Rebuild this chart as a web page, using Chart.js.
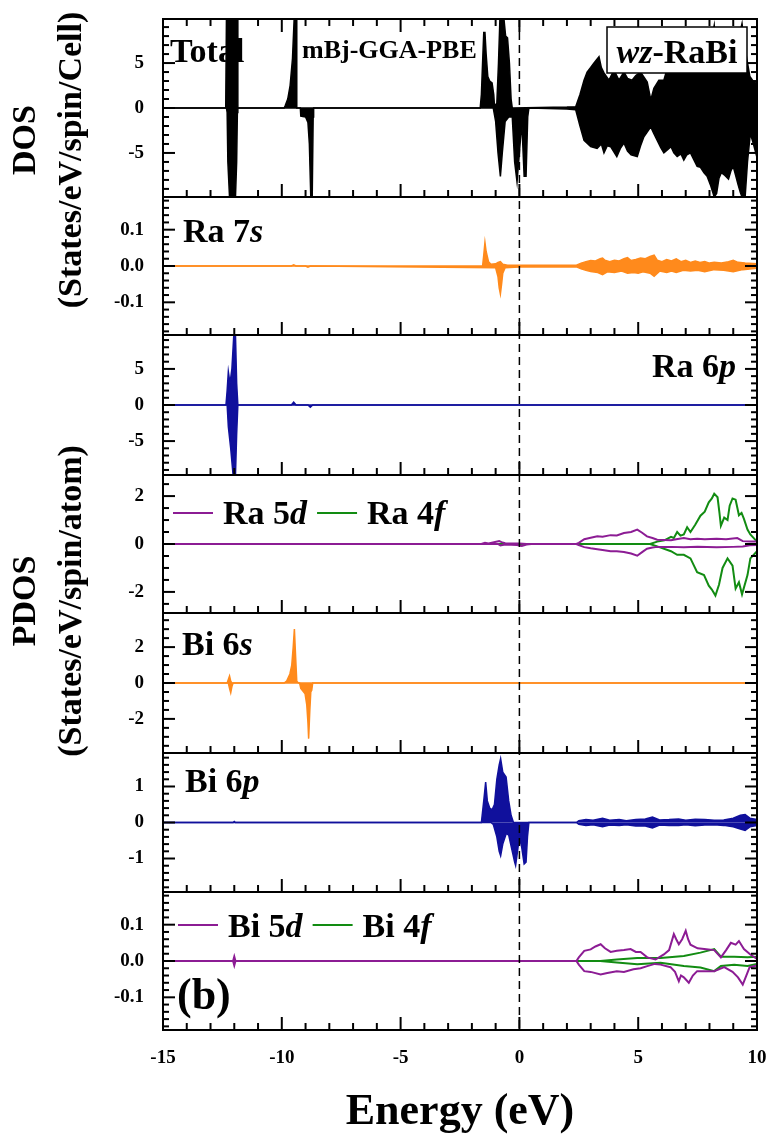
<!DOCTYPE html>
<html>
<head>
<meta charset="utf-8">
<script src="https://cdn.jsdelivr.net/npm/chart.js@4.4.1/dist/chart.umd.min.js"></script>
<style>
  html, body { margin: 0; padding: 0; background: #fff; }
  #wrap { width: 768px; height: 1136px; }
</style>
</head>
<body>
<div id="wrap"><canvas id="dosChart" width="768" height="1136"></canvas></div>
<script>
// energy axis
const xTicks = [-15, -10, -5, 0, 5, 10];

// Total DOS, spin up / spin down
const totUpE = [-15, -12.36, -12.33, -11.87, -11.85, -9.9, -9.85, -9.75, -9.65, -9.55, -9.48, -9.4, -9.37,
  -1.65, -1.6, -1.55, -1.5, -1.45, -1.4, -1.33, -1.25, -1.15, -1.08, -1.05, -0.95, -0.88, -0.82, -0.65, -0.58, -0.5, -0.42, -0.35, -0.3,
  2.0, 2.37, 2.55, 2.72, 2.85, 3.0, 3.14, 3.35, 3.45, 3.56, 3.77, 3.98, 4.19, 4.4, 4.55, 4.74, 4.9, 5.1, 5.25, 5.38, 5.53, 5.66, 5.87,
  6.08, 6.2, 6.38, 6.5, 6.64, 6.8, 6.92, 7.05, 7.2, 7.35, 7.48, 7.62, 7.77, 7.9, 8.06, 8.15, 8.2, 8.3, 8.45, 8.6, 8.75, 8.9, 9.05,
  9.17, 9.3, 9.37, 9.45, 9.57, 9.7, 9.86, 10];
const totUp = [0, 0, 9.9, 9.9, 0, 0, 0.3, 1.0, 2.5, 5.5, 9.9, 9.9, 0,
  0, 1.5, 5, 8.4, 8.4, 6, 3.5, 3.0, 2.8, 1.5, 0.3, 0.5, 5, 9.9, 9.9, 8.0, 7.8, 5, 1, 0,
  0.1, 0.15, 1.5, 3.1, 4.0, 4.5, 5.0, 5.7, 4.5, 3.9, 3.1, 4.2, 3.1, 4.0, 3.3, 3.1, 3.6, 4.0, 3.4, 2.9, 0.9, 2.2, 3.1,
  3.1, 4.2, 5.3, 4.6, 4.2, 4.8, 4.6, 5.2, 5.0, 4.6, 5.3, 5.0, 4.6, 5.5, 6.4, 8.5, 9.2, 6.1, 5.3, 5.0, 5.8, 6.1, 5.6,
  6.8, 8.6, 9.4, 7.5, 5.5, 3.5, 2.9, 2.7];
const totDnE = [-15, -12.33, -12.3, -12.27, -12.2, -11.95, -11.9, -11.87, -11.85, -9.22, -9.2, -9.0, -8.9, -8.84, -8.78, -8.72, -8.68, -8.66,
  -1.1, -1.0, -0.9, -0.8, -0.72, -0.6, -0.45, -0.3, -0.2, -0.1, 0.0, 0.1, 0.2, 0.28, 0.35, 0.4,
  2.0, 2.37, 2.55, 2.72, 3.0, 3.27, 3.45, 3.56, 3.7, 3.84, 4.1, 4.25, 4.4, 4.55, 4.7, 4.96, 5.1, 5.24, 5.4, 5.53, 5.65, 5.8, 5.95,
  6.08, 6.25, 6.38, 6.5, 6.64, 6.8, 6.92, 7.05, 7.2, 7.35, 7.48, 7.62, 7.77, 7.9, 8.06, 8.2, 8.3, 8.4, 8.5, 8.65, 8.8, 8.9, 9.0,
  9.1, 9.2, 9.3, 9.37, 9.5, 9.6, 9.72, 9.85, 10];
const totDn = [0, 0, -0.5, -6, -9.9, -9.9, -6, -0.5, 0, 0, -0.9, -1.0, -1.6, -4, -9.9, -9.9, -1.0, 0,
  0, -1.5, -5, -7.6, -5, -1.5, -1.0, -1.0, -6, -8.2, -5, -1.5, -7.6, -7.6, -1, 0,
  -0.1, -0.2, -2.0, -3.6, -4.3, -4.5, -4.0, -5.0, -4.2, -4.3, -5.4, -4.5, -3.9, -4.8, -5.2, -5.4, -4.2, -3.2, -2.6, -2.1, -2.8, -3.6, -4.4,
  -5.0, -4.6, -4.3, -5.0, -5.4, -5.1, -5.8, -5.2, -5.0, -5.8, -6.5, -6.6, -7.2, -7.6, -8.7, -9.9, -9.5, -7.8, -7.2, -7.5, -7.9, -7.0, -6.5,
  -7.5, -8.5, -9.4, -9.9, -9.9, -6.0, -2.8, -4.0, -5.5];

// Ra 7s
const ra7sUpE = [-15, -9.6, -9.5, -9.4, -1.55, -1.5, -1.45, -1.4, -1.3, -1.2, -1.0, -0.9, -0.8, -0.7, -0.5, 0, 2.4, 2.6, 2.8, 3.0, 3.2,
  3.4, 3.5, 3.6, 3.8, 4.0, 4.2, 4.4, 4.55, 4.7, 4.9, 5.1, 5.3, 5.5, 5.67, 5.8, 6.0, 6.2, 6.4, 6.6, 6.8, 7.0, 7.2, 7.4, 7.6, 7.8,
  8.0, 8.2, 8.5, 8.8, 9.0, 9.2, 9.5, 10];
const ra7sUp = [0, 0, 0.003, 0, 0, 0.03, 0.065, 0.04, 0.012, 0.005, 0.006, 0.01, 0.012, 0.005, 0.002, 0.002, 0.002, 0.008, 0.012, 0.015, 0.014,
  0.02, 0.022, 0.016, 0.012, 0.016, 0.014, 0.02, 0.023, 0.015, 0.018, 0.022, 0.02, 0.026, 0.03, 0.016, 0.012, 0.018, 0.014, 0.02, 0.012, 0.016, 0.01, 0.014, 0.01, 0.012,
  0.008, 0.01, 0.008, 0.012, 0.016, 0.01, 0.008, 0.006];
const ra7sDnE = [-15, -9.0, -8.9, -8.8, -1.0, -0.9, -0.85, -0.8, -0.75, -0.7, -0.6, 0, 2.4, 2.6, 2.8, 3.0, 3.3, 3.5, 3.7, 4.0, 4.3,
  4.55, 4.8, 5.0, 5.2, 5.5, 5.67, 5.9, 6.2, 6.4, 6.6, 6.9, 7.2, 7.5, 7.8, 8.2, 8.6, 9.0, 9.4, 10];
const ra7sDn = [0, 0, -0.003, 0, -0.005, -0.03, -0.06, -0.077, -0.05, -0.02, -0.005, -0.003, -0.002, -0.008, -0.012, -0.015, -0.018, -0.024, -0.016, -0.018, -0.014,
  -0.02, -0.018, -0.02, -0.016, -0.02, -0.028, -0.014, -0.018, -0.014, -0.018, -0.012, -0.014, -0.012, -0.016, -0.01, -0.012, -0.016, -0.01, -0.006];

// Ra 6p
const ra6pUpE = [-15, -12.35, -12.3, -12.25, -12.18, -12.1, -12.02, -11.95, -11.9, -11.85, -9.6, -9.5, -9.4, 10];
const ra6pUp = [0, 0, 2, 4.6, 3, 5, 9.7, 9.7, 3, 0, 0, 0.4, 0, 0];
const ra6pDnE = [-15, -12.3, -12.25, -12.15, -12.05, -11.95, -11.9, -11.85, -8.9, -8.8, -8.7, 10];
const ra6pDn = [0, 0, -3, -6, -9.7, -9.7, -4, 0, 0, -0.3, 0, 0];

// Ra 5d and Ra 4f
const ra5dUpE = [-15, -1.6, -1.45, -1.3, -0.85, -0.75, -0.6, 0, 0.3, 2.4, 2.5, 2.73, 3.0, 3.28, 3.5, 3.84, 4.1, 4.4, 4.7, 4.96,
  5.15, 5.37, 5.6, 5.8, 6.1, 6.38, 6.6, 6.92, 7.2, 7.48, 7.8, 8.3, 8.7, 9.17, 9.4, 9.7, 10];
const ra5dUp = [0, 0, 0.05, 0.02, 0.12, 0.08, 0.03, 0.02, 0, 0, 0.05, 0.2, 0.26, 0.32, 0.3, 0.37, 0.36, 0.46, 0.5, 0.6,
  0.48, 0.32, 0.25, 0.18, 0.17, 0.16, 0.2, 0.25, 0.2, 0.22, 0.2, 0.22, 0.2, 0.25, 0.12, 0.1, 0.1];
const ra5dDnE = [-15, -0.9, -0.8, -0.6, -0.1, 0.1, 0.3, 0.5, 2.4, 2.5, 2.73, 3.0, 3.28, 3.5, 3.84, 4.1, 4.4, 4.7, 4.96, 5.15,
  5.37, 5.6, 5.8, 6.38, 6.92, 7.5, 8.3, 9.0, 9.4, 9.7, 10];
const ra5dDn = [0, 0, -0.06, -0.02, -0.04, -0.08, -0.02, 0, 0, -0.05, -0.13, -0.18, -0.22, -0.25, -0.3, -0.3, -0.33, -0.4, -0.49, -0.35,
  -0.2, -0.15, -0.12, -0.12, -0.14, -0.12, -0.14, -0.12, -0.1, -0.05, -0.04];
const ra4fUpE = [-15, 5.5, 5.8, 6.1, 6.38, 6.5, 6.64, 6.78, 6.92, 7.06, 7.2, 7.4, 7.62, 7.8, 7.97, 8.1, 8.2, 8.34, 8.42, 8.48,
  8.62, 8.76, 8.85, 8.97, 9.1, 9.24, 9.35, 9.45, 9.6, 9.72, 10];
const ra4fUp = [0, 0, 0.1, 0.15, 0.3, 0.25, 0.5, 0.35, 0.4, 0.7, 0.5, 0.8, 1.18, 1.35, 1.74, 1.9, 2.1, 1.95, 1.3, 0.76,
  1.1, 1.0, 1.6, 1.9, 1.85, 1.2, 1.3, 1.05, 0.6, 0.4, 0.1];
const ra4fDnE = [-15, 5.5, 5.8, 6.38, 6.64, 6.92, 7.2, 7.48, 7.77, 7.97, 8.1, 8.25, 8.4, 8.55, 8.76, 8.97, 9.1, 9.24, 9.37, 9.6, 9.72, 10];
const ra4fDn = [0, 0, -0.1, -0.3, -0.45, -0.45, -0.6, -1.18, -1.3, -1.74, -1.9, -2.15, -1.7, -1.0, -0.6, -0.9, -1.86, -1.6, -2.1, -1.3, -0.6, -0.3];

// Bi 6s
const bi6sUpE = [-15, -12.3, -12.25, -12.2, -12.15, -12.1, -9.9, -9.8, -9.66, -9.58, -9.52, -9.47, -9.42, -9.37, -9.3, 10];
const bi6sUp = [0, 0, 0.2, 0.39, 0.1, 0, 0, 0.1, 0.5, 1.0, 2.0, 3.0, 1.5, 0.1, 0, 0];
const bi6sDnE = [-15, -12.25, -12.2, -12.15, -12.1, -12.05, -9.25, -9.2, -9.02, -8.95, -8.9, -8.87, -8.82, -8.78, -8.74, -8.7, 10];
const bi6sDn = [0, 0, -0.3, -0.54, -0.2, 0, 0, -0.3, -0.6, -1.2, -2.2, -3.1, -1.5, -0.5, -0.4, 0, 0];

// Bi 6p
const bi6pUpE = [-15, -12.05, -12.0, -11.95, -1.6, -1.5, -1.42, -1.35, -1.25, -1.15, -1.05, -0.95, -0.85, -0.79, -0.7, -0.56, -0.45, -0.35, -0.25,
  2.4, 2.5, 2.8, 3.1, 3.5, 3.8, 4.2, 4.5, 4.9, 5.3, 5.6, 5.9, 6.3, 6.7, 7.0, 7.4, 7.8, 8.2, 8.6, 9.0, 9.3, 9.5, 9.7, 10];
const bi6pUp = [0, 0, 0.03, 0, 0, 0.6, 1.12, 0.6, 0.4, 0.35, 0.5, 1.2, 1.6, 1.77, 1.4, 1.26, 0.6, 0.2, 0,
  0, 0.05, 0.08, 0.06, 0.12, 0.06, 0.08, 0.05, 0.08, 0.1, 0.15, 0.07, 0.08, 0.1, 0.06, 0.09, 0.08, 0.06, 0.07, 0.12, 0.2, 0.22, 0.12, 0.08];
const bi6pDnE = [-15, -1.2, -1.1, -0.95, -0.85, -0.79, -0.7, -0.55, -0.45, -0.3, -0.2, -0.16, -0.08, 0, 0.1, 0.2, 0.28, 0.34, 0.4,
  2.4, 2.5, 2.8, 3.1, 3.5, 3.8, 4.2, 4.5, 4.9, 5.3, 5.6, 5.9, 6.3, 6.7, 7.0, 7.4, 7.8, 8.2, 8.6, 9.0, 9.3, 9.5, 9.7, 10];
const bi6pDn = [0, 0, -0.05, -0.4, -0.8, -0.92, -0.6, -0.3, -0.35, -0.8, -1.1, -1.19, -0.8, -0.4, -0.7, -1.15, -1.1, -0.4, 0,
  0, -0.05, -0.08, -0.06, -0.12, -0.07, -0.08, -0.06, -0.1, -0.1, -0.15, -0.07, -0.08, -0.08, -0.06, -0.09, -0.07, -0.06, -0.08, -0.12, -0.18, -0.22, -0.12, -0.08];

// Bi 5d and Bi 4f
const bi5dUpE = [-15, -12.05, -12.0, -11.95, 2.4, 2.5, 2.73, 3.0, 3.2, 3.42, 3.6, 3.84, 4.1, 4.4, 4.68, 4.9, 5.1, 5.38, 5.73, 6.08,
  6.3, 6.5, 6.6, 6.71, 6.85, 7.0, 7.1, 7.2, 7.5, 7.78, 8.2, 8.48, 8.7, 8.9, 9.1, 9.24, 9.45, 9.72, 10];
const bi5dUp = [0, 0, 0.012, 0, 0, 0.01, 0.028, 0.032, 0.04, 0.046, 0.035, 0.025, 0.028, 0.03, 0.033, 0.025, 0.025, 0.01, 0.004, 0.018,
  0.03, 0.074, 0.06, 0.046, 0.06, 0.083, 0.06, 0.045, 0.035, 0.033, 0.03, 0.01, 0.03, 0.05, 0.045, 0.055, 0.033, 0.018, 0.006];
const bi5dDnE = [-15, -12.05, -12.0, -11.95, 2.4, 2.5, 2.73, 3.0, 3.42, 3.7, 4.1, 4.4, 4.8, 5.1, 5.38, 5.7, 5.94, 6.36, 6.55, 6.71,
  6.8, 6.92, 7.13, 7.3, 7.48, 8.2, 8.62, 8.97, 9.2, 9.4, 9.55, 9.69, 10];
const bi5dDn = [0, 0, -0.012, 0, 0, -0.01, -0.028, -0.03, -0.037, -0.033, -0.028, -0.03, -0.023, -0.02, -0.014, -0.008, -0.01, -0.017, -0.03, -0.056,
  -0.04, -0.045, -0.06, -0.04, -0.028, -0.028, -0.017, -0.03, -0.045, -0.065, -0.04, -0.017, -0.012];
const bi4fUpE = [-15, 3.4, 4.1, 4.96, 5.94, 6.92, 7.62, 8.2, 8.48, 9.04, 9.6, 10];
const bi4fUp = [0, 0, 0.004, 0.008, 0.008, 0.014, 0.023, 0.033, 0.012, 0.012, 0.01, 0.012];
const bi4fDnE = [-15, 3.4, 4.1, 4.96, 5.94, 6.92, 7.62, 8.2, 8.48, 9.04, 9.6, 10];
const bi4fDn = [0, 0, -0.004, -0.009, -0.005, -0.014, -0.018, -0.028, -0.014, -0.01, -0.014, -0.008];

// major y tick labels per panel
const totTicks = [-5, 0, 5];
const ra7sTicks = [-0.1, 0, 0.1];
const ra6pTicks = [-5, 0, 5];
const ra5dTicks = [-2, 0, 2];
const bi6sTicks = [-2, 0, 2];
const bi6pTicks = [-1, 0, 1];
const bi5dTicks = [-0.1, 0, 0.1];

const black = "#000000";
const orange = "#ff8a1c";
const blue = "#10109c";
const purple = "#8c1c94";
const green = "#128c12";
const serif = '"Liberation Serif", "DejaVu Serif", serif';

// panels top to bottom
const panels = [
  { id: "yTot", min: -9.9, max: 9.9, ticks: totTicks, minor: 1, weight: 178, dec: 0 },
  { id: "yRa7s", min: -0.19, max: 0.19, ticks: ra7sTicks, minor: 0.02, weight: 138, dec: 1 },
  { id: "yRa6p", min: -9.7, max: 9.7, ticks: ra6pTicks, minor: 1, weight: 140, dec: 0 },
  { id: "yRa5d", min: -2.88, max: 2.88, ticks: ra5dTicks, minor: 0.5, weight: 138, dec: 0 },
  { id: "yBi6s", min: -3.9, max: 3.9, ticks: bi6sTicks, minor: 0.5, weight: 140, dec: 0 },
  { id: "yBi6p", min: -1.93, max: 1.93, ticks: bi6pTicks, minor: 0.2, weight: 139, dec: 0 },
  { id: "yBi5d", min: -0.19, max: 0.19, ticks: bi5dTicks, minor: 0.02, weight: 138, dec: 1 },
];

function series(xs, ys, axis, color, filled) {
  if (xs.length !== ys.length) console.warn("length mismatch", axis, xs.length, ys.length);
  return {
    data: xs.map((x, i) => ({ x: x, y: ys[i] })),
    yAxisID: axis,
    borderColor: color,
    backgroundColor: color,
    borderWidth: filled ? 1.5 : 2,
    pointRadius: 0,
    fill: filled ? "origin" : false,
  };
}

const datasets = [
  series(totUpE, totUp, "yTot", black, true),
  series(totDnE, totDn, "yTot", black, true),
  series(ra7sUpE, ra7sUp, "yRa7s", orange, true),
  series(ra7sDnE, ra7sDn, "yRa7s", orange, true),
  series(ra6pUpE, ra6pUp, "yRa6p", blue, true),
  series(ra6pDnE, ra6pDn, "yRa6p", blue, true),
  series(ra5dUpE, ra5dUp, "yRa5d", purple, false),
  series(ra5dDnE, ra5dDn, "yRa5d", purple, false),
  series(ra4fUpE, ra4fUp, "yRa5d", green, false),
  series(ra4fDnE, ra4fDn, "yRa5d", green, false),
  series(bi6sUpE, bi6sUp, "yBi6s", orange, true),
  series(bi6sDnE, bi6sDn, "yBi6s", orange, true),
  series(bi6pUpE, bi6pUp, "yBi6p", blue, true),
  series(bi6pDnE, bi6pDn, "yBi6p", blue, true),
  series(bi5dUpE, bi5dUp, "yBi5d", purple, false),
  series(bi5dDnE, bi5dDn, "yBi5d", purple, false),
  series(bi4fUpE, bi4fUp, "yBi5d", green, false),
  series(bi4fDnE, bi4fDn, "yBi5d", green, false),
];

const scales = {
  x: {
    type: "linear",
    min: -15,
    max: 10,
    afterBuildTicks: (s) => { s.ticks = xTicks.map((v) => ({ value: v })); },
    afterFit: (s) => {
      s.height = 106;
      s.paddingLeft = 0;
      s.paddingRight = 0;
    },
    grid: { display: false, drawTicks: false },
    border: { display: false },
    ticks: { color: black, font: { family: serif, size: 19, weight: "bold" }, padding: 17, autoSkip: false, maxRotation: 0 },
    title: {
      display: true,
      text: "Energy (eV)",
      color: black,
      font: { family: serif, size: 44, weight: "bold", lineHeight: 1.05 },
      padding: 0,
    },
  },
};
// stacked left axes are placed with the last one on top, so add bottom panel first
panels.slice().reverse().forEach((p) => {
  scales[p.id] = {
    type: "linear",
    position: "left",
    stack: "dos",
    stackWeight: p.weight,
    min: p.min,
    max: p.max,
    afterBuildTicks: (s) => { s.ticks = p.ticks.map((v) => ({ value: v })); },
    afterFit: (s) => {
      s.width = 63;
      s.paddingTop = 0;
      s.paddingBottom = 0;
    },
    grid: { display: false, drawTicks: false },
    border: { display: false },
    ticks: {
      color: black,
      font: { family: serif, size: 19, weight: "bold" },
      padding: 19,
      autoSkip: false,
      callback: (v) => Number(v).toFixed(p.dec),
    },
  };
});

function line(ctx, x1, y1, x2, y2) {
  ctx.beginPath();
  ctx.moveTo(x1, y1);
  ctx.lineTo(x2, y2);
  ctx.stroke();
}

// frames, inward ticks and the Fermi level
const framePlugin = {
  id: "framePlugin",
  afterDatasetsDraw(chart) {
    const { ctx, chartArea } = chart;
    const xs = chart.scales.x;
    ctx.save();
    ctx.strokeStyle = black;

    // dashed line at E = 0
    const x0 = xs.getPixelForValue(0);
    ctx.lineWidth = 1.5;
    ctx.setLineDash([8, 5]);
    line(ctx, x0, chartArea.top, x0, chartArea.bottom);
    ctx.setLineDash([]);

    panels.forEach((p, i) => {
      const ys = chart.scales[p.id];
      ctx.lineWidth = 2;
      for (let e = -15; e <= 10; e++) {
        const px = xs.getPixelForValue(e);
        const len = e % 5 === 0 ? 13 : 7;
        line(ctx, px, ys.bottom, px, ys.bottom - len);
        if (i === 0) line(ctx, px, ys.top, px, ys.top + len);
      }
      const n0 = Math.ceil(p.min / p.minor - 1e-6);
      const n1 = Math.floor(p.max / p.minor + 1e-6);
      for (let n = n0; n <= n1; n++) {
        const v = n * p.minor;
        const major = p.ticks.some((t) => Math.abs(t - v) < 1e-6);
        const len = major ? 12 : 6;
        const py = ys.getPixelForValue(v);
        line(ctx, chartArea.left, py, chartArea.left + len, py);
        line(ctx, chartArea.right, py, chartArea.right - len, py);
      }
      ctx.strokeRect(chartArea.left, ys.top, chartArea.right - chartArea.left, ys.bottom - ys.top);
    });
    ctx.restore();
  },
};

function richText(ctx, parts, x, y, size) {
  let cx = x;
  parts.forEach(([txt, italic]) => {
    ctx.font = (italic ? "italic " : "") + "bold " + size + "px " + serif;
    ctx.fillText(txt, cx, y);
    cx += ctx.measureText(txt).width;
  });
  return cx;
}

function richWidth(ctx, parts, size) {
  let w = 0;
  parts.forEach(([txt, italic]) => {
    ctx.font = (italic ? "italic " : "") + "bold " + size + "px " + serif;
    w += ctx.measureText(txt).width;
  });
  return w;
}

function vText(ctx, txt, cx, cy, size) {
  ctx.save();
  ctx.translate(cx, cy);
  ctx.rotate(-Math.PI / 2);
  ctx.font = "bold " + size + "px " + serif;
  ctx.textAlign = "center";
  ctx.textBaseline = "middle";
  ctx.fillText(txt, 0, 0);
  ctx.restore();
}

// panel labels, legends and axis titles
const labelPlugin = {
  id: "labelPlugin",
  afterDraw(chart) {
    const { ctx, chartArea } = chart;
    const sc = chart.scales;
    const left = chartArea.left;
    ctx.save();
    ctx.fillStyle = black;
    ctx.textBaseline = "alphabetic";
    ctx.textAlign = "left";

    const tot = sc.yTot;
    richText(ctx, [["Total", false]], left + 7, tot.top + 43, 34);
    richText(ctx, [["mBj-GGA-PBE", false]], left + 139, tot.top + 39, 26);
    // boxed material name
    const bx = chartArea.right - 150;
    ctx.fillStyle = "#fff";
    ctx.fillRect(bx, tot.top + 8, 140, 46);
    ctx.strokeStyle = black;
    ctx.lineWidth = 1.5;
    ctx.strokeRect(bx, tot.top + 8, 140, 46);
    ctx.fillStyle = black;
    const nameParts = [["wz", true], ["-RaBi", false]];
    richText(ctx, nameParts, bx + (140 - richWidth(ctx, nameParts, 34)) / 2, tot.top + 44, 34);

    richText(ctx, [["Ra 7", false], ["s", true]], left + 20, sc.yRa7s.top + 45, 34);
    const ra6p = [["Ra 6", false], ["p", true]];
    richText(ctx, ra6p, chartArea.right - 21 - richWidth(ctx, ra6p, 34), sc.yRa6p.top + 42, 34);

    // legend Ra 5d / Ra 4f
    const r5 = sc.yRa5d;
    ctx.lineWidth = 2;
    ctx.strokeStyle = purple;
    line(ctx, left + 10, r5.top + 38, left + 50, r5.top + 38);
    let cx = richText(ctx, [["Ra 5", false], ["d", true]], left + 60, r5.top + 49, 34);
    ctx.strokeStyle = green;
    line(ctx, cx + 10, r5.top + 38, cx + 50, r5.top + 38);
    richText(ctx, [["Ra 4", false], ["f", true]], cx + 60, r5.top + 49, 34);

    richText(ctx, [["Bi 6", false], ["s", true]], left + 19, sc.yBi6s.top + 42, 34);
    richText(ctx, [["Bi 6", false], ["p", true]], left + 22, sc.yBi6p.top + 39, 34);

    // legend Bi 5d / Bi 4f
    const b5 = sc.yBi5d;
    ctx.strokeStyle = purple;
    line(ctx, left + 15, b5.top + 33, left + 55, b5.top + 33);
    cx = richText(ctx, [["Bi 5", false], ["d", true]], left + 65, b5.top + 45, 34);
    ctx.strokeStyle = green;
    line(ctx, cx + 10, b5.top + 33, cx + 50, b5.top + 33);
    richText(ctx, [["Bi 4", false], ["f", true]], cx + 60, b5.top + 45, 34);

    richText(ctx, [["(b)", false]], left + 14, b5.top + 117, 44);

    // y axis titles
    vText(ctx, "DOS", 26, 140, 34);
    vText(ctx, "(States/eV/spin/Cell)", 72, 160, 34);
    vText(ctx, "PDOS", 26, 601, 34);
    vText(ctx, "(States/eV/spin/atom)", 72, 601, 34);
    ctx.restore();
  },
};

new Chart(document.getElementById("dosChart"), {
  type: "line",
  data: { datasets: datasets },
  options: {
    responsive: false,
    animation: false,
    devicePixelRatio: 1,
    layout: { padding: { left: 100, right: 11, top: 19, bottom: 0 } },
    plugins: { legend: { display: false }, tooltip: { enabled: false } },
    scales: scales,
  },
  plugins: [framePlugin, labelPlugin],
});
</script>
</body>
</html>
